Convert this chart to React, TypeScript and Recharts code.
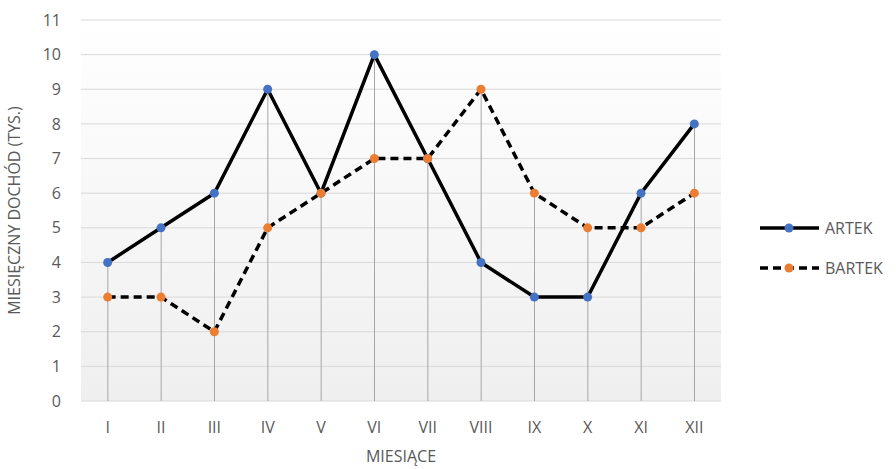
import React from 'react';
import {
  ComposedChart,
  Line,
  Bar,
  XAxis,
  YAxis,
  CartesianGrid,
} from 'recharts';

const months = ['I', 'II', 'III', 'IV', 'V', 'VI', 'VII', 'VIII', 'IX', 'X', 'XI', 'XII'];
const artek = [4, 5, 6, 9, 6, 10, 7, 4, 3, 3, 6, 8];
const bartek = [3, 3, 2, 5, 6, 7, 7, 9, 6, 5, 5, 6];
const yTicks = [0, 1, 2, 3, 4, 5, 6, 7, 8, 9, 10, 11];

const data = months.map((m, i) => ({
  name: m,
  artek: artek[i],
  bartek: bartek[i],
  top: Math.max(artek[i], bartek[i]),
}));

const FONT = '"Open Sans", "Noto Sans", sans-serif';
const TEXT = '#595959';
const BLUE = '#4472C4';
const ORANGE = '#ED7D31';
const FS = 16;

const DropLine = (props: any) => {
  const { x, y, width, height } = props;
  const cx = x + width / 2;
  return <line x1={cx} x2={cx} y1={y} y2={y + height} stroke="#a6a6a6" strokeWidth={1} />;
};

const LegendBox = () => {
  const items = [
    { label: 'ARTEK', color: BLUE, dash: undefined },
    { label: 'BARTEK', color: ORANGE, dash: '8 5' },
  ];
  return (
    <svg width={140} height={80} style={{ position: 'absolute', left: 758, top: 216 }}>
      {items.map((it, i) => {
        const cy = 12 + i * 40;
        return (
          <g key={it.label}>
            <line x1={2} x2={61} y1={cy} y2={cy} stroke="#000" strokeWidth={3.5} strokeDasharray={it.dash} />
            <circle cx={31} cy={cy} r={4.5} fill={it.color} />
            <text x={67} y={cy + 6} fontSize={FS} fill={TEXT} fontFamily={FONT}>
              {it.label}
            </text>
          </g>
        );
      })}
    </svg>
  );
};

export default function App() {
  return (
    <div style={{ position: 'absolute', left: 0, top: 0, width: 896, height: 469, background: '#fff' }}>
      <ComposedChart
        width={896}
        height={469}
        data={data}
        margin={{ top: 20, right: 175, bottom: 0, left: 0 }}
      >
        <defs>
          <linearGradient id="plotBg" x1="0" y1="0" x2="0" y2="1">
            <stop offset="0%" stopColor="#ffffff" />
            <stop offset="100%" stopColor="#efefef" />
          </linearGradient>
        </defs>
        <CartesianGrid vertical={false} stroke="#d9d9d9" fill="url(#plotBg)" fillOpacity={1} />
        <XAxis
          dataKey="name"
          axisLine={false}
          tickLine={false}
          tickSize={0}
          tickMargin={21}
          height={68}
          tick={{ fontSize: FS, fill: TEXT, fontFamily: FONT }}
          label={{ value: 'MIESIĄCE', position: 'insideBottom', offset: 7, fontSize: FS, fill: TEXT, fontFamily: FONT }}
        />
        <YAxis
          domain={[0, 11]}
          ticks={yTicks}
          interval={0}
          axisLine={false}
          tickLine={false}
          tickSize={0}
          tickMargin={20}
          width={81}
          tick={{ fontSize: FS, fill: TEXT, fontFamily: FONT }}
          label={{
            value: 'MIESIĘCZNY DOCHÓD (TYS.)',
            angle: -90,
            position: 'insideLeft',
            offset: 14,
            style: { textAnchor: 'middle', fontSize: FS, fill: TEXT, fontFamily: FONT },
          }}
        />
        <Bar dataKey="top" shape={<DropLine />} isAnimationActive={false} legendType="none" />
        <Line
          dataKey="artek"
          name="ARTEK"
          stroke="#000"
          strokeWidth={3.5}
          dot={{ r: 4.5, fill: BLUE, stroke: 'none' }}
          activeDot={false}
          isAnimationActive={false}
        />
        <Line
          dataKey="bartek"
          name="BARTEK"
          stroke="#000"
          strokeWidth={3.5}
          strokeDasharray="8 5"
          dot={{ r: 4.5, fill: ORANGE, stroke: 'none', strokeDasharray: '' }}
          activeDot={false}
          isAnimationActive={false}
        />
      </ComposedChart>
      <LegendBox />
    </div>
  );
}
